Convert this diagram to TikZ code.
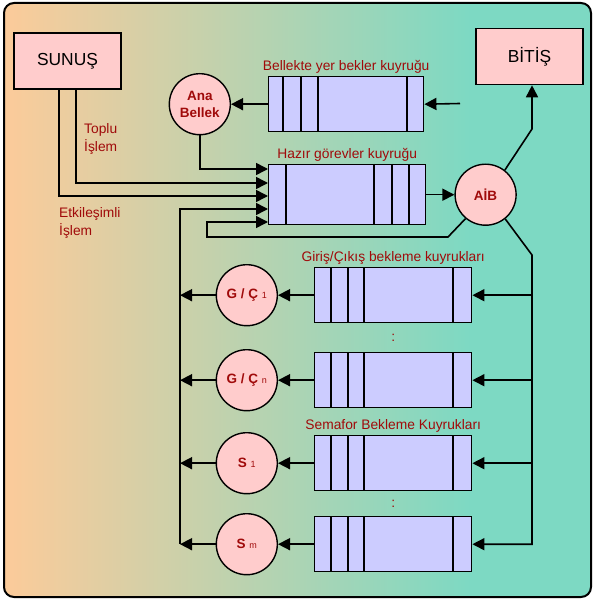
\documentclass[tikz,border=0pt]{standalone}
\usepackage{fontspec}
\setmainfont{Liberation Sans}
\usetikzlibrary{arrows.meta,calc,positioning}
\definecolor{arkaturuncu}{RGB}{252,203,154}
\definecolor{arkayesil}{RGB}{125,217,195}
\definecolor{pembe}{RGB}{255,204,204}
\definecolor{lila}{RGB}{204,204,255}
\definecolor{koyukirmizi}{RGB}{160,10,10}
\tikzset{
  cizgi/.style={line width=1.6pt,draw=black},
  ok/.style={cizgi,-{Triangle[length=12pt,width=12pt]}},
  kutu/.style={
    rectangle,
    draw=black,
    fill=pembe,
    line width=1.6pt,
    minimum width=107pt,
    minimum height=56pt,
    font=\fontsize{17.4}{20}\selectfont
  },
  daire/.style={
    circle,
    draw=black,
    fill=pembe,
    line width=1.4pt,
    minimum size=61pt,
    inner sep=0pt,
    align=center,
    text=koyukirmizi,
    font=\bfseries\fontsize{13.5}{17}\selectfont
  },
  kuyruk kutu/.style={rectangle,draw=black,fill=lila,line width=1.4pt,inner sep=0pt},
  etiket/.style={text=koyukirmizi,inner sep=1pt,align=left,font=\fontsize{13.8}{18}\selectfont}
}
\newcommand{\kuyruk}[6]{%
  \node[kuyruk kutu,minimum width=#4pt,minimum height=#5pt,anchor=north west] (#1) at (#2,#3) {};
  \foreach \d in {#6}
    \draw[line width=1.4pt] ([xshift=\d pt]#1.north west) -- ([xshift=\d pt]#1.south west);%
}
\newcommand{\altindis}[1]{{\mdseries\fontsize{9}{9}\selectfont #1}}

\begin{document}
\begin{tikzpicture}[x=1pt,y=-1pt]
  \useasboundingbox (0,0) rectangle (596,601);
  \begin{scope}
    \clip[rounded corners=10pt] (4,3) rectangle (591,597);
    \fill[arkayesil] (4,3) rectangle (591,597);
    \shade[left color=arkaturuncu,right color=arkayesil] (4,3) rectangle (470,597);
  \end{scope}
  \draw[line width=2pt,rounded corners=10pt] (4,3) rectangle (591,597);

  \node[kutu] (sunus) at (67.5,61) {SUNUŞ};
  \node[kutu] (bitis) at (529.5,56.5) {BİTİŞ};

  \kuyruk{bellekte}{268}{76}{155}{55}{15,33,50,139}
  \kuyruk{hazir}{268}{164}{157}{60}{18,106,124,141}
  \kuyruk{gcbir}{314}{267}{157}{55}{17,34,50,139}
  \kuyruk{gcn}{314}{352}{157}{55}{17,34,50,139}
  \kuyruk{sbir}{314}{435}{157}{55}{17,34,50,139}
  \kuyruk{sm}{314}{516}{157}{55}{17,34,50,139}

  \node[etiket,above=1pt of bellekte] (bellekteyazi) {Bellekte yer bekler kuyruğu};
  \node[etiket,above=1pt of hazir] (haziryazi) {Hazır görevler kuyruğu};
  \node[etiket,above=1pt of gcbir] (gcyazi) {Giriş/Çıkış bekleme kuyrukları};
  \node[etiket,above=1pt of sbir] (semaforyazi) {Semafor Bekleme Kuyrukları};
  \node[etiket] (nokta1) at ($(gcbir.south)!0.5!(gcn.north)$) {:};
  \node[etiket] (nokta2) at ($(sbir.south)!0.5!(sm.north)$) {:};
  \node[etiket,anchor=west,inner sep=0pt] (toplu) at (84,139) {Toplu\\İşlem};
  \node[etiket,anchor=west,inner sep=0pt] (etkilesimli) at (59,222.5) {Etkileşimli\\İşlem};

  \node[daire,left=37pt of bellekte] (ana) {Ana\\Bellek};
  \node[daire,right=28pt of hazir] (aib) {AİB};
  \node[daire,left=36pt of gcbir] (gcbirdaire) {G / Ç \altindis{1}};
  \node[daire,left=36pt of gcn] (gcndaire) {G / Ç \altindis{n}};
  \node[daire,left=36pt of sbir] (sbirdaire) {S \altindis{1}};
  \node[daire,left=36pt of sm] (smdaire) {S \altindis{m}};

  \foreach \i/\d in {1/5,2/19,3/32,4/45,5/58}
    \coordinate (h\i) at ($(hazir.north west)+(0,\d)$);
  \coordinate (giris) at (460,103.5);
  \coordinate (alt) at (180,543.5);
  \coordinate (kirik) at (532,129);
  \coordinate (sagust) at (532,255);
  \coordinate (donguSag) at (448,237);
  \coordinate (donguSol) at (207,237);

  \draw[ok] (giris) -- (bellekte.east);
  \draw[ok] (bellekte.west) -- (ana);
  \draw[ok] (ana.south) |- (h1);
  \draw[ok] ([xshift=8.5pt]sunus.south) |- (h2);
  \draw[ok] ([xshift=-8.5pt]sunus.south) |- (h3);
  \draw[ok] (alt) |- (h4);
  \draw[ok] (aib.230) -- (donguSag) -- (donguSol) |- (h5);
  \draw[ok] (hazir.east) -- (aib);
  \draw[ok] (aib.52) -- (kirik) -- (kirik |- bitis.south);
  \draw[ok] (aib.-51) -- (sagust) |- (sm.east);
  \foreach \k in {gcbir,gcn,sbir}
    \draw[ok] (sagust |- \k.east) -- (\k.east);
  \foreach \k in {gcbir,gcn,sbir,sm} {
    \draw[ok] (\k.west) -- (\k daire);
    \draw[ok] (\k daire.west) -- (\k daire.west -| alt);
  }
\end{tikzpicture}
\end{document}
